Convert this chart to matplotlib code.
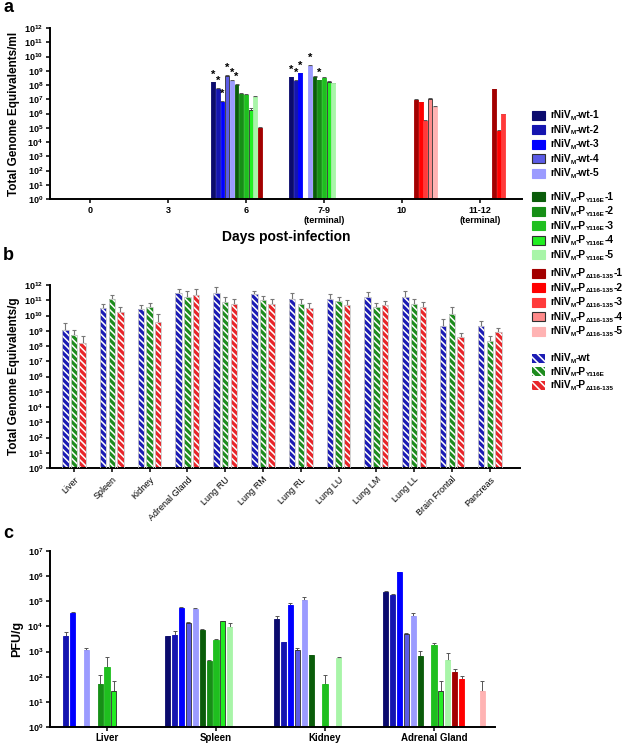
import numpy as np
import matplotlib
matplotlib.use("Agg")
import matplotlib.pyplot as plt
from matplotlib.patches import Rectangle

nan = np.nan

# ---- panel a : serum genome equivalents ----
days = ['0', '3', '6', '7-9\n(terminal)', '10', '11-12\n(terminal)']
day0 = [nan] * 15
day3 = [nan] * 15
day6 = [1.5e8, 5.5e7, 6.7e6, 4.3e8, 2.0e8, 1.0e8, 2.5e7, 2.1e7, 1.8e6, 1.5e7,
        9.0e4, nan, nan, nan, nan]
day7_9 = [3.5e8, 2.0e8, 6.6e8, nan, 2.3e9, 3.8e8, 2.1e8, 3.2e8, 1.6e8, 1.3e8,
          nan, nan, nan, nan, nan]
day10 = [nan] * 10 + [9.0e6, 6.0e6, 3.0e5, 1.1e7, 3.0e6]
day11_12 = [nan] * 10 + [5.0e7, 6.0e4, 9.0e5, nan, nan]
# upper ends of the (tiny) error bars
day6_hi = [1.7e8, 6.5e7, 8.0e6, 4.8e8, 2.3e8, 1.1e8, 2.8e7, 2.4e7, 2.3e6, 1.6e7,
           1.2e5, nan, nan, nan, nan]
day7_9_hi = [3.9e8, 2.2e8, 7.2e8, nan, 2.5e9, 4.1e8, 2.3e8, 3.5e8, 1.8e8, 1.4e8,
             nan, nan, nan, nan, nan]
day10_hi = [nan] * 10 + [1.0e7, 6.6e6, 3.4e5, 1.2e7, 3.3e6]
day11_12_hi = [nan] * 10 + [5.5e7, 6.6e4, 1.0e6, nan, nan]
stars_day6 = [0, 1, 2, 3, 4, 5]
stars_day7_9 = [0, 1, 2, 4, 6]

# ---- panel b : tissue genome equivalents ----
organs = ['Liver', 'Spleen', 'Kidney', 'Adrenal Gland', 'Lung RU', 'Lung RM',
          'Lung RL', 'Lung LU', 'Lung LM', 'Lung LL', 'Brain Frontal', 'Pancreas']
b_wt = [1.1e9, 3.0e10, 2.6e10, 2.8e11, 2.8e11, 2.6e11, 1.3e11, 1.3e11, 1.7e11, 1.7e11, 2.2e9, 2.0e9]
b_wt_hi = [3.0e9, 5.6e10, 4.8e10, 5.1e11, 7.1e11, 4.3e11, 2.8e11, 2.6e11, 3.3e11, 4.0e11, 5.5e9, 4.5e9]
b_y116e = [5.6e8, 1.3e11, 3.7e10, 1.7e11, 8.0e10, 1.0e11, 6.0e10, 9.0e10, 3.5e10, 6.0e10, 1.3e10, 2.0e8]
b_y116e_hi = [1.1e9, 2.2e11, 6.2e10, 4.3e11, 1.7e11, 1.9e11, 1.2e11, 1.55e11, 6.2e10, 1.2e11, 3.4e10, 4.5e8]
b_del = [1.6e8, 1.8e10, 3.8e9, 2.2e11, 5.6e10, 6.0e10, 3.0e10, 4.8e10, 4.8e10, 3.7e10, 3.9e8, 8.0e8]
b_del_hi = [4.4e8, 3.7e10, 1.2e10, 5.8e11, 1.3e11, 1.3e11, 6.9e10, 1.1e11, 8.9e10, 7.6e10, 7.6e8, 1.6e9]

# ---- panel c : infectious virus ----
tissues = ['Liver', 'Spleen', 'Kidney', 'Adrenal Gland']
liver = [nan, 4.3e3, 3.4e4, nan, 1.2e3, nan, 52, 250, 26, nan, nan, nan, nan, nan, nan]
liver_hi = [nan, 5.9e3, 3.6e4, nan, 1.4e3, nan, 117, 620, 65, nan, nan, nan, nan, nan, nan]
spleen = [4.0e3, 4.4e3, 5.6e4, 1.4e4, 5.1e4, 7.3e3, 4.4e2, 3.0e3, 1.6e4, 9.3e3, nan, nan, nan, nan, nan]
spleen_hi = [4.2e3, 6.3e3, 6.0e4, 1.5e4, 5.6e4, 7.6e3, 4.6e2, 3.3e3, 1.7e4, 1.4e4, nan, nan, nan, nan, nan]
kidney = [2.0e4, 2.4e3, 7.0e4, 1.2e3, 1.1e5, 7.2e2, nan, 52, nan, 5.8e2, nan, nan, nan, nan, nan]
kidney_hi = [2.6e4, 2.5e3, 8.9e4, 1.4e3, 1.5e5, 7.5e2, nan, 120, nan, 6.2e2, nan, nan, nan, nan, nan]
adrenal = [2.3e5, 1.8e5, 1.4e6, 4.8e3, 2.6e4, 6.8e2, nan, 1.9e3, 26, 4.6e2, 1.6e2, 82, nan, nan, 26]
adrenal_hi = [2.5e5, 1.9e5, 1.45e6, 5.5e3, 3.4e4, 1.1e3, nan, 2.1e3, 65, 9.1e2, 2.1e2, 1.1e2, nan, nan, 65]

# ---- series styling ----
series_colors = ['#0b0b6e', '#1515b0', '#0000ff', '#5b5be6', '#9b9bff',
                 '#0a5c0a', '#168f16', '#1fbf1f', '#22ee22', '#a8f5a8',
                 '#a30000', '#ff0000', '#ff3a3a', '#ff8a8a', '#ffb3b3']
outlined = [3, 8, 13]
# legend labels as (main, subscript) pieces
series_labels = ([[('rNiV', ''), ('', 'M'), ('-wt-%d' % i, '')] for i in range(1, 6)] +
                 [[('rNiV', ''), ('', 'M'), ('-P', ''), ('', 'Y116E'), ('-%d' % i, '')] for i in range(1, 6)] +
                 [[('rNiV', ''), ('', 'M'), ('-P', ''), ('', '\u0394116-135'), ('-%d' % i, '')] for i in range(1, 6)])
group_colors = ['#1c1cb4', '#1e8c1e', '#e8262a']
group_labels = [[('rNiV', ''), ('', 'M'), ('-wt', '')],
                [('rNiV', ''), ('', 'M'), ('-P', ''), ('', 'Y116E')],
                [('rNiV', ''), ('', 'M'), ('-P', ''), ('', '\u0394116-135')]]

plt.rcParams['font.family'] = ['Liberation Sans', 'DejaVu Sans']
plt.rcParams['font.weight'] = 'bold'
plt.rcParams['axes.labelweight'] = 'bold'
plt.rcParams['mathtext.fontset'] = 'custom'
plt.rcParams['mathtext.rm'] = 'Liberation Sans:bold'
plt.rcParams['mathtext.bf'] = 'Liberation Sans:bold'
plt.rcParams['mathtext.it'] = 'Liberation Sans:bold'
plt.rcParams['mathtext.default'] = 'bf'
plt.rcParams['hatch.linewidth'] = 1.1
plt.rcParams['hatch.color'] = 'white'

W, H = 623, 745
fig = plt.figure(figsize=(W / 100, H / 100), dpi=100)
renderer = fig.canvas.get_renderer()


def px_axes(x0, y0, x1, y1):
    return fig.add_axes([x0 / W, 1 - y1 / H, (x1 - x0) / W, (y1 - y0) / H])


def style_axes(ax, top_exp):
    for s in ['top', 'right']:
        ax.spines[s].set_visible(False)
    for s in ['left', 'bottom']:
        ax.spines[s].set_linewidth(1.4)
    ax.set_yscale('log')
    ax.set_ylim(1, 10 ** top_exp)
    ax.set_yticks([10.0 ** k for k in range(top_exp + 1)])
    ax.set_yticklabels([r'$10^{%d}$' % k for k in range(top_exp + 1)], fontsize=6.5)
    ax.yaxis.set_minor_locator(matplotlib.ticker.NullLocator())
    ax.tick_params(axis='both', length=3, width=1.1, pad=2)


def slot_bars(ax, groups, highs, slot, frac):
    for g, (vals, his) in enumerate(zip(groups, highs)):
        for i in range(15):
            v = vals[i]
            if np.isnan(v):
                continue
            x = g + (i - 7) * slot
            ec = '#303030' if i in outlined else series_colors[i]
            ax.bar(x, v, width=slot * frac, color=series_colors[i], edgecolor=ec,
                   linewidth=0.6, zorder=2)
            if not np.isnan(his[i]):
                ax.errorbar(x, v, yerr=[[0], [his[i] - v]], fmt='none',
                            ecolor='#555555', elinewidth=0.7, capsize=1.3,
                            capthick=0.7, zorder=1)


def legend_label(xpx, ypx, pieces, size=7.3, sub_size=4.6):
    # main text and small subscripts placed one after another
    x = xpx
    for main, sub in pieces:
        if main:
            t = fig.text(x / W, 1 - (ypx + 3.2) / H, main, fontsize=size, va='baseline', ha='left')
        else:
            t = fig.text(x / W, 1 - (ypx + 5.0) / H, sub, fontsize=sub_size, va='baseline', ha='left')
        x += t.get_window_extent(renderer).width


# ---------------- a ----------------
ax_a = px_axes(50, 28, 522, 199)
style_axes(ax_a, 12)
a_vals = [day0, day3, day6, day7_9, day10, day11_12]
a_his = [day0, day3, day6_hi, day7_9_hi, day10_hi, day11_12_hi]
slot_a = 0.0603
slot_bars(ax_a, a_vals, a_his, slot_a, 0.82)
for g, idx in [(2, stars_day6), (3, stars_day7_9)]:
    for i in idx:
        ax_a.annotate('*', (g + (i - 7) * slot_a, a_his[g][i]), xytext=(0, 1.5),
                      textcoords='offset points', ha='center', va='bottom', fontsize=8)
ax_a.set_xlim(-0.513, 5.54)
ax_a.set_xticks(range(len(days)))
ax_a.set_xticklabels(days, fontsize=6.5)
ax_a.set_xlabel('Days post-infection', fontsize=10, labelpad=3)
ax_a.set_ylabel('Total Genome Equivalents/ml', fontsize=8.5, labelpad=3)

# ---------------- b ----------------
ax_b = px_axes(50, 285, 520, 468)
style_axes(ax_b, 12)
xb = np.arange(len(organs))
step_b = 0.23
for k, (vals, his) in enumerate([(b_wt, b_wt_hi), (b_y116e, b_y116e_hi), (b_del, b_del_hi)]):
    xs = xb + (k - 1) * step_b
    vals = np.array(vals)
    his = np.array(his)
    ax_b.bar(xs, vals, width=0.17, color=group_colors[k], edgecolor='white',
             hatch='\\\\\\\\\\', linewidth=0.0, zorder=2)
    ax_b.bar(xs, vals, width=0.17, fill=False, edgecolor='#c8c8c8', linewidth=0.6, zorder=3)
    ax_b.errorbar(xs, vals, yerr=[np.zeros_like(vals), his - vals], fmt='none',
                  ecolor='#777777', elinewidth=0.8, capsize=1.6, capthick=0.8, zorder=1)
ax_b.set_xlim(-0.635, 11.8)
ax_b.set_xticks(xb)
ax_b.set_xticklabels(organs, rotation=45, ha='right', rotation_mode='anchor',
                     fontsize=6.5, fontweight='normal')
ax_b.set_ylabel('Total Genome Equivalents/g', fontsize=8.5, labelpad=3)

# ---------------- c ----------------
ax_c = px_axes(50, 551, 495, 727)
style_axes(ax_c, 7)
slot_c = 0.0633
slot_bars(ax_c, [liver, spleen, kidney, adrenal],
          [liver_hi, spleen_hi, kidney_hi, adrenal_hi], slot_c, 0.75)
ax_c.set_xlim(-0.523, 3.56)
ax_c.set_xticks(range(len(tissues)))
ax_c.set_xticklabels(tissues, fontsize=7)
ax_c.tick_params(axis='x', pad=1)
ax_c.set_ylabel('PFU/g', fontsize=9, labelpad=3)

# ---------------- legend ----------------
row_starts = [115, 196.5, 273, 358]
for grp in range(3):
    for j in range(5):
        i = grp * 5 + j
        yc = row_starts[grp] + j * 14.5
        ec = '#303030' if i in outlined else series_colors[i]
        fig.add_artist(Rectangle((532 / W, 1 - (yc + 4.5) / H), 13 / W, 9 / H,
                                 transform=fig.transFigure, facecolor=series_colors[i],
                                 edgecolor=ec, linewidth=0.8))
        legend_label(550, yc, series_labels[i])
for k in range(3):
    yc = row_starts[3] + k * 13.5
    fig.add_artist(Rectangle((532 / W, 1 - (yc + 4.5) / H), 13 / W, 9 / H,
                             transform=fig.transFigure, facecolor=group_colors[k],
                             edgecolor='white', hatch='\\\\\\\\', linewidth=0.0))
    legend_label(550, yc, group_labels[k])

# panel letters
for letter, ypx in [('a', 8), ('b', 255), ('c', 533)]:
    fig.text(3 / W, 1 - ypx / H, letter, fontsize=13, fontweight='bold', va='center', ha='left')

fig.savefig('out.png', dpi=100)
